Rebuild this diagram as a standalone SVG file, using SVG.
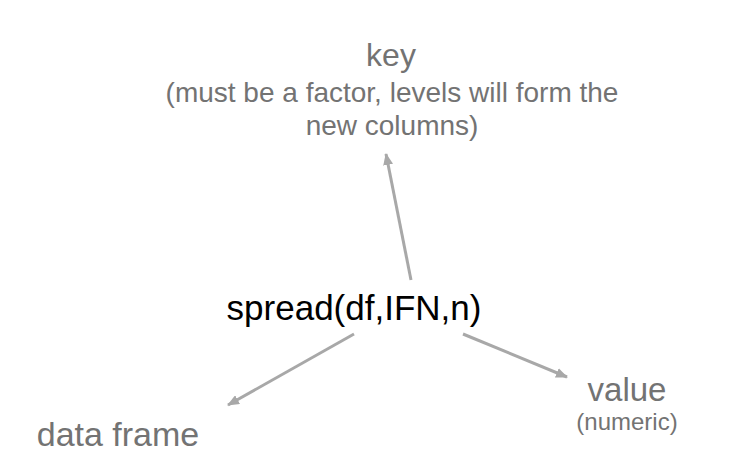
<svg xmlns="http://www.w3.org/2000/svg" width="746" height="469" viewBox="0 0 746 469">
<style>
.lbl{font-family:"Liberation Sans",Arial,sans-serif;fill:#737373;text-anchor:middle}
.main{font-family:"Liberation Sans",Arial,sans-serif;fill:#000;text-anchor:middle;font-size:35px}
.conn{stroke:#a8a8a8;stroke-width:3;fill:none;marker-end:url(#ah)}
</style>
<defs>
<marker id="ah" viewBox="0 0 12 10" refX="11" refY="5" markerWidth="12" markerHeight="10" markerUnits="userSpaceOnUse" orient="auto">
<path d="M0,0 L12,5 L0,10 z" fill="#a8a8a8"/>
</marker>
</defs>
<rect width="746" height="469" fill="#fff"/>
<g id="connectors">
<line class="conn" x1="411" y1="280" x2="386" y2="154"/>
<line class="conn" x1="354" y1="334" x2="228" y2="405"/>
<line class="conn" x1="463" y1="334" x2="567" y2="377"/>
</g>
<g id="key">
<text class="lbl" x="391" y="66" font-size="32">key</text>
<text class="lbl" x="392" y="102" font-size="28">(must be a factor, levels will form the</text>
<text class="lbl" x="392" y="135" font-size="28">new columns)</text>
</g>
<g id="spread">
<text class="main" x="354" y="320">spread(df,IFN,n)</text>
</g>
<g id="dataframe">
<text class="lbl" x="118" y="446" font-size="34">data frame</text>
</g>
<g id="value">
<text class="lbl" x="627" y="401" font-size="33">value</text>
<text class="lbl" x="627" y="430" font-size="24">(numeric)</text>
</g>
</svg>
